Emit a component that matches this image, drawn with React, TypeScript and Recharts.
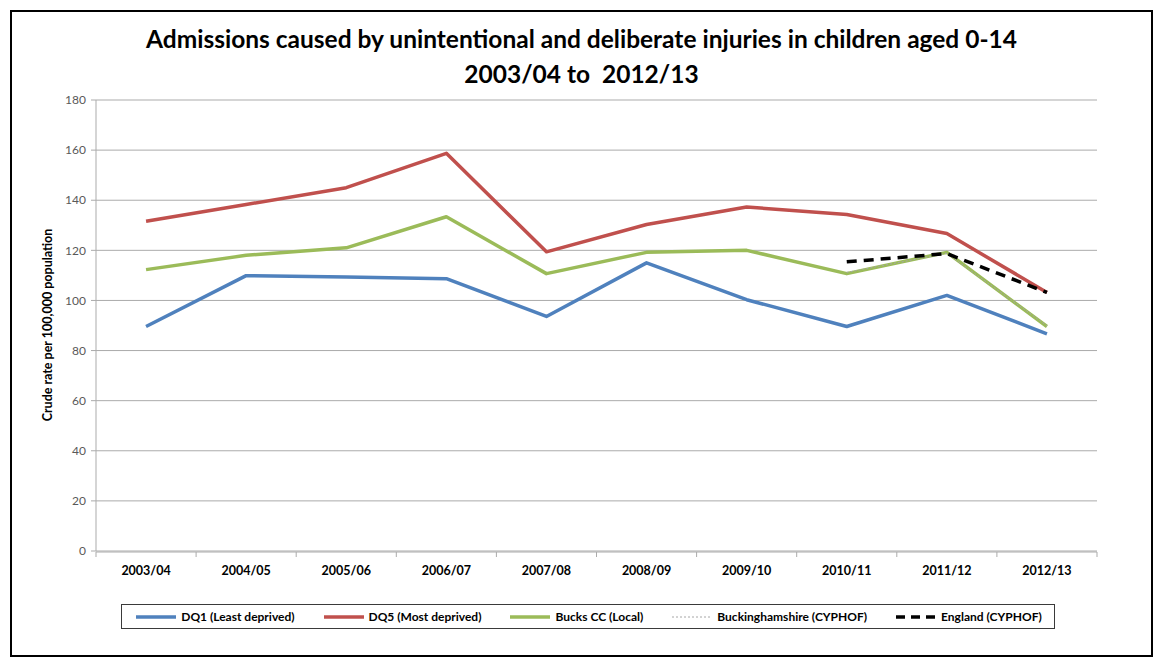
import React from "react";
import { LineChart, Line, XAxis, YAxis, CartesianGrid } from "recharts";

const categories = ["2003/04", "2004/05", "2005/06", "2006/07", "2007/08", "2008/09", "2009/10", "2010/11", "2011/12", "2012/13"];
const dq1 = [89.6, 109.9, 109.4, 108.7, 93.6, 115.0, 100.3, 89.6, 102.0, 86.7];
const dq5 = [131.6, 138.3, 145.0, 158.7, 119.4, 130.3, 137.3, 134.3, 126.7, 103.2];
const bucksCC = [112.3, 118.0, 121.0, 133.4, 110.7, 119.2, 120.0, 110.7, 119.2, 89.6];
const bucksCyphof = [null, null, null, null, null, null, null, 111.2, 118.8, 89.9];
const englandCyphof = [null, null, null, null, null, null, null, 115.4, 118.7, 103.2];
const yTicks = [0, 20, 40, 60, 80, 100, 120, 140, 160, 180];

const data = categories.map((c, i) => ({
  idx: i,
  label: c,
  dq1: dq1[i],
  dq5: dq5[i],
  bucksCC: bucksCC[i],
  bucksCyphof: bucksCyphof[i],
  england: englandCyphof[i],
}));

const categoryTicks = categories.map((_, i) => i);
const boundaryTicks = [...categories.map((_, i) => i - 0.5), categories.length - 0.5];

const FONT = "Lato, 'Open Sans', sans-serif";
const GRID = "#ABABAB";

const legendItems = [
  { name: "DQ1 (Least deprived)", color: "#4F81BD", width: 3.5, dash: undefined as string | undefined },
  { name: "DQ5 (Most deprived)", color: "#C0504D", width: 3.5, dash: undefined },
  { name: "Bucks CC (Local)", color: "#9BBB59", width: 3.5, dash: undefined },
  { name: "Buckinghamshire (CYPHOF)", color: "#A6A6A6", width: 1, dash: "2 2" },
  { name: "England (CYPHOF)", color: "#000000", width: 3.5, dash: "9 6" },
];

function Legend() {
  return (
    <div
      style={{
        position: "absolute",
        left: 121,
        top: 604,
        width: 932,
        height: 23,
        border: "1px solid #3a3a3a",
        display: "flex",
        alignItems: "center",
        justifyContent: "center",
        gap: 27,
        fontFamily: FONT,
        fontWeight: 700,
        fontSize: 12,
        color: "#000",
      }}
    >
      {legendItems.map((it) => (
        <div key={it.name} style={{ display: "flex", alignItems: "center", gap: 3 }}>
          <svg width={44} height={8}>
            <line x1={2} y1={4} x2={42} y2={4} stroke={it.color} strokeWidth={it.width} strokeDasharray={it.dash} />
          </svg>
          <span>{it.name}</span>
        </div>
      ))}
    </div>
  );
}

export default function App() {
  return (
    <div style={{ position: "absolute", left: 0, top: 0, width: 1162, height: 664, background: "#fff" }}>
      <div
        style={{
          position: "absolute",
          left: 10,
          top: 10,
          width: 1139,
          height: 643,
          border: "2px solid #000",
        }}
      />
      <div
        style={{
          position: "absolute",
          left: 10,
          top: 21,
          width: 1143,
          textAlign: "center",
          fontFamily: FONT,
          fontWeight: 700,
          fontSize: 24.5,
          lineHeight: "35px",
          color: "#000",
        }}
      >
        Admissions caused by unintentional and deliberate injuries in children aged 0-14
        <br />
        2003/04 to&nbsp; 2012/13
      </div>
      <div
        style={{
          position: "absolute",
          left: 47,
          top: 325,
          transform: "translate(-50%, -50%) rotate(-90deg)",
          whiteSpace: "nowrap",
          fontFamily: FONT,
          fontWeight: 700,
          fontSize: 12.5,
          color: "#000",
        }}
      >
        Crude rate per 100,000 population
      </div>
      <div style={{ position: "absolute", left: 0, top: 0 }}>
        <LineChart width={1162} height={664} data={data} margin={{ top: 100, right: 65, left: 36, bottom: 111 }}>
          <CartesianGrid vertical={false} stroke={GRID} strokeWidth={1} />
          <XAxis
            xAxisId="bounds"
            dataKey="idx"
            type="number"
            domain={[-0.5, categories.length - 0.5]}
            ticks={boundaryTicks}
            tickFormatter={() => ""}
            height={1}
            axisLine={{ stroke: GRID }}
            tickLine={{ stroke: GRID }}
            tickSize={5}
            interval={0}
            allowDataOverflow
          />
          <XAxis
            dataKey="idx"
            type="number"
            domain={[-0.5, categories.length - 0.5]}
            ticks={categoryTicks}
            tickFormatter={(v: number) => categories[v] ?? ""}
            height={1}
            axisLine={false}
            tickLine={false}
            tickSize={6}
            tickMargin={9}
            interval={0}
            tick={{ fill: "#000", fontSize: 12.5, fontWeight: 700, fontFamily: FONT }}
            allowDataOverflow
          />
          <YAxis
            width={60}
            domain={[0, 180]}
            ticks={yTicks}
            interval={0}
            axisLine={{ stroke: GRID }}
            tickLine={{ stroke: GRID }}
            tickSize={5}
            tickMargin={5}
            tick={{ fill: "#595959", fontSize: 12, fontFamily: FONT }}
          />
          <Line dataKey="dq1" stroke="#4F81BD" strokeWidth={3.5} dot={false} isAnimationActive={false} strokeLinejoin="round" />
          <Line dataKey="dq5" stroke="#C0504D" strokeWidth={3.5} dot={false} isAnimationActive={false} strokeLinejoin="round" />
          <Line dataKey="bucksCC" stroke="#9BBB59" strokeWidth={3.5} dot={false} isAnimationActive={false} strokeLinejoin="round" />
          <Line dataKey="bucksCyphof" stroke="#A6A6A6" strokeWidth={1} strokeDasharray="2 2" dot={false} isAnimationActive={false} />
          <Line dataKey="england" stroke="#000" strokeWidth={3.5} strokeDasharray="10 7" dot={false} isAnimationActive={false} />
        </LineChart>
      </div>
      <Legend />
    </div>
  );
}
